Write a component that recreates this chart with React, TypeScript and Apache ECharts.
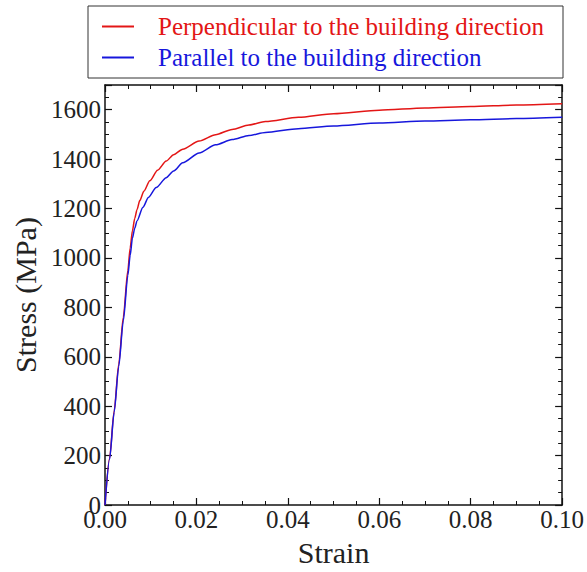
import React, { useEffect, useRef } from "react";
import * as echarts from "echarts";

const seriesNames = [
  "Perpendicular to the building direction",
  "Parallel to the building direction",
];

const strainPerp = [
  0, 0.001, 0.002, 0.003, 0.004, 0.005, 0.0055, 0.006, 0.0065, 0.007, 0.0076,
  0.0085, 0.0098, 0.0115, 0.0134, 0.015, 0.017, 0.0206, 0.0242, 0.0278, 0.0315,
  0.0351, 0.0423, 0.05, 0.06, 0.07, 0.08, 0.09, 0.1,
];
const stressPerp = [
  0, 190, 380, 570, 760, 950, 1040, 1110, 1160, 1195, 1232, 1270, 1312, 1355,
  1392, 1418, 1440, 1473, 1499, 1520, 1538, 1552, 1569, 1584, 1598, 1607, 1613,
  1619, 1624,
];

const strainPar = [
  0, 0.001, 0.002, 0.003, 0.004, 0.005, 0.0055, 0.006, 0.0065, 0.007, 0.0083,
  0.0095, 0.0112, 0.0134, 0.015, 0.017, 0.0206, 0.0242, 0.0278, 0.0315, 0.0351,
  0.0423, 0.05, 0.06, 0.07, 0.08, 0.09, 0.1,
];
const stressPar = [
  0, 185, 375, 560, 745, 930, 1010, 1080, 1120, 1150, 1205, 1245, 1285, 1325,
  1352, 1385, 1425, 1458, 1479, 1496, 1508, 1523, 1534, 1546, 1554, 1559, 1564,
  1569,
];

const xTicks = [0, 0.02, 0.04, 0.06, 0.08, 0.1];
const yTicks = [0, 200, 400, 600, 800, 1000, 1200, 1400, 1600];

const RED = "#e31616";
const BLUE = "#1717dc";
const FONT = "'Liberation Serif', 'DejaVu Serif', serif";

export default function App() {
  const ref = useRef<HTMLDivElement>(null);

  useEffect(() => {
    document.body.style.margin = "0";
    if (!ref.current) return;
    const chart = echarts.init(ref.current, undefined, { renderer: "svg" });

    const pairs = (xs: number[], ys: number[]) => xs.map((x, i) => [x, ys[i]]);

    const axisLine = { show: true, onZero: false, lineStyle: { color: "#111", width: 1.5 } };
    const axisTick = { show: true, inside: true, length: 7, lineStyle: { color: "#111", width: 1.2 } };
    const minorTick = { show: true, splitNumber: 4, length: 4, lineStyle: { color: "#111", width: 1 } };

    const xBase = {
      type: "value" as const,
      min: xTicks[0],
      max: xTicks[xTicks.length - 1],
      interval: xTicks[1] - xTicks[0],
      axisLine,
      axisTick,
      minorTick,
      splitLine: { show: false },
    };
    const yBase = {
      type: "value" as const,
      min: 0,
      max: 1700,
      interval: yTicks[1] - yTicks[0],
      axisLine,
      axisTick,
      minorTick,
      splitLine: { show: false },
    };

    chart.setOption({
      animation: false,
      backgroundColor: "#fff",
      grid: { left: 105, right: 22, top: 85, bottom: 64 },
      legend: {
        orient: "vertical",
        left: 88,
        top: 6,
        padding: [8, 19, 8, 14],
        itemGap: 6,
        itemWidth: 32,
        itemHeight: 2,
        icon: "rect",
        borderColor: "#333",
        borderWidth: 1,
        borderRadius: 0,
        backgroundColor: "#fff",
        selectedMode: false,
        textStyle: { fontFamily: FONT, fontSize: 25, padding: [0, 0, 0, 19] },
        data: [
          { name: seriesNames[0], textStyle: { color: RED } },
          { name: seriesNames[1], textStyle: { color: BLUE } },
        ],
      },
      xAxis: [
        {
          ...xBase,
          position: "bottom",
          name: "Strain",
          nameLocation: "middle",
          nameGap: 32,
          nameTextStyle: { fontFamily: FONT, fontSize: 30, color: "#222" },
          axisLabel: {
            fontFamily: FONT,
            fontSize: 25,
            color: "#222",
            margin: 2,
            formatter: (v: number) => v.toFixed(2),
          },
        },
        {
          ...xBase,
          position: "top",
          axisLabel: { show: false },
        },
      ],
      yAxis: [
        {
          ...yBase,
          position: "left",
          name: "Stress (MPa)",
          nameLocation: "middle",
          nameGap: 61,
          nameTextStyle: { fontFamily: FONT, fontSize: 30, color: "#222" },
          axisLabel: {
            fontFamily: FONT,
            fontSize: 25,
            color: "#222",
            margin: 4,
            showMaxLabel: false,
            formatter: (v: number) => String(v),
          },
        },
        {
          ...yBase,
          position: "right",
          axisLabel: { show: false },
        },
      ],
      series: [
        {
          name: seriesNames[0],
          type: "line",
          xAxisIndex: 0,
          yAxisIndex: 0,
          data: pairs(strainPerp, stressPerp),
          symbol: "none",
          smooth: 0.25,
          smoothMonotone: "x",
          lineStyle: { color: RED, width: 1.5 },
          itemStyle: { color: RED },
          z: 3,
        },
        {
          name: seriesNames[1],
          type: "line",
          xAxisIndex: 0,
          yAxisIndex: 0,
          data: pairs(strainPar, stressPar),
          symbol: "none",
          smooth: 0.25,
          smoothMonotone: "x",
          lineStyle: { color: BLUE, width: 1.5 },
          itemStyle: { color: BLUE },
          z: 4,
        },
      ],
    });

    return () => chart.dispose();
  }, []);

  return (
    <div
      ref={ref}
      style={{ position: "fixed", left: 0, top: 0, width: 587, height: 572 }}
    />
  );
}
